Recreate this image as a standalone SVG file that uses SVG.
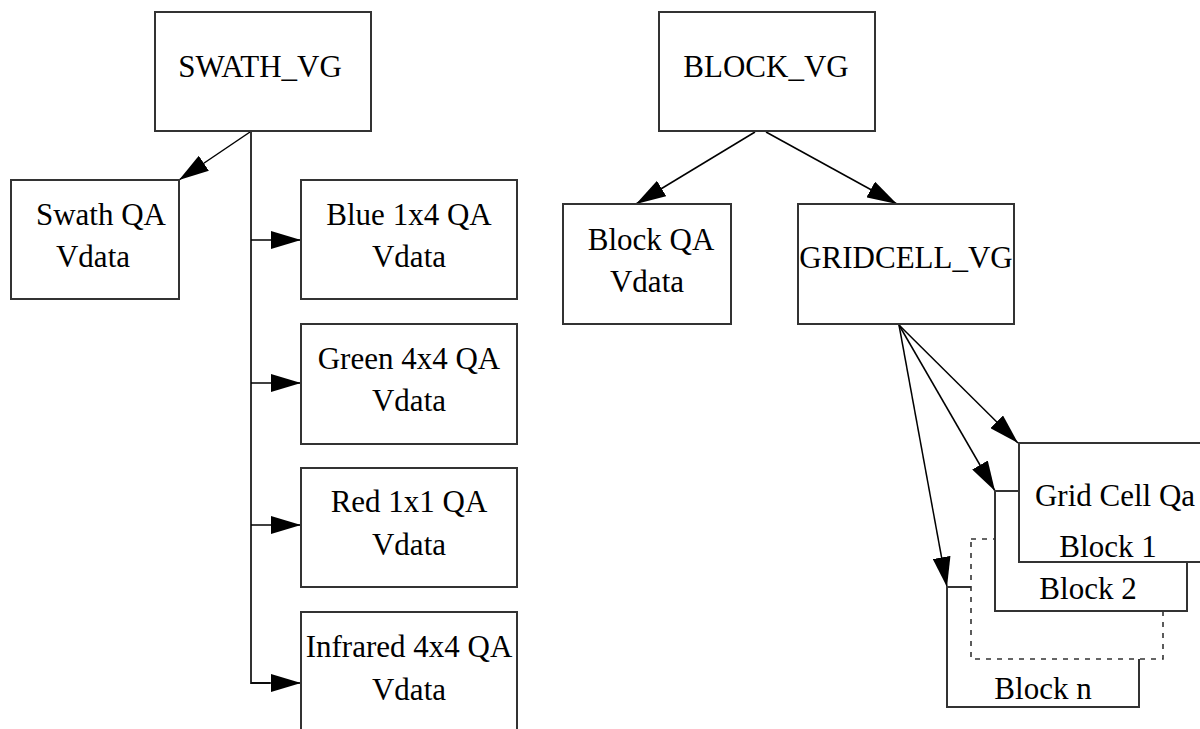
<svg xmlns="http://www.w3.org/2000/svg" width="1200" height="729" viewBox="0 0 1200 729">
<defs>
<marker id="ah" markerUnits="userSpaceOnUse" markerWidth="30" markerHeight="18" refX="30" refY="9" orient="auto">
<path d="M0,0 L30,9 L0,18 z" fill="#000"/>
</marker>
<style>
.box{fill:#fff;stroke:#333;stroke-width:2}
.dash{fill:#fff;stroke:#333;stroke-width:1.6;stroke-dasharray:5,6}
.t{font-family:"Liberation Serif","Times New Roman",serif;font-size:31px;fill:#000;text-anchor:middle}
.c{fill:none;stroke:#000;stroke-width:1.5}
.v{fill:none;stroke:#333;stroke-width:2}
</style>
</defs>
<rect width="1200" height="729" fill="#fff"/>
<g id="connectors">
<line class="c" x1="250" y1="132" x2="179" y2="180" marker-end="url(#ah)"/>
<polyline class="v" points="251,131 251,683 270,683"/>
<line class="c" x1="251" y1="240" x2="301" y2="240" marker-end="url(#ah)"/>
<line class="c" x1="251" y1="383" x2="301" y2="383" marker-end="url(#ah)"/>
<line class="c" x1="251" y1="525" x2="301" y2="525" marker-end="url(#ah)"/>
<line class="c" x1="251" y1="683" x2="301" y2="683" marker-end="url(#ah)"/>
<line class="c" x1="755" y1="132" x2="636" y2="204" marker-end="url(#ah)"/>
<line class="c" x1="766" y1="132" x2="897" y2="204" marker-end="url(#ah)"/>
<line class="c" x1="899" y1="325" x2="1018" y2="443" marker-end="url(#ah)"/>
<line class="c" x1="899" y1="325" x2="995" y2="491" marker-end="url(#ah)"/>
<line class="c" x1="899" y1="325" x2="947" y2="587" marker-end="url(#ah)"/>
</g>
<g id="swath_vg">
<rect class="box" x="155" y="12" width="216" height="119"/>
<text class="t" x="260" y="77">SWATH_VG</text>
</g>
<g id="swath_qa">
<rect class="box" x="11" y="180" width="168" height="119"/>
<text class="t" x="101" y="225">Swath QA</text>
<text class="t" x="93" y="267">Vdata</text>
</g>
<g id="blue_qa">
<rect class="box" x="301" y="180" width="216" height="119"/>
<text class="t" x="409" y="225">Blue 1x4 QA</text>
<text class="t" x="409" y="267">Vdata</text>
</g>
<g id="green_qa">
<rect class="box" x="301" y="324" width="216" height="120"/>
<text class="t" x="409" y="369">Green 4x4 QA</text>
<text class="t" x="409" y="411">Vdata</text>
</g>
<g id="red_qa">
<rect class="box" x="301" y="468" width="216" height="119"/>
<text class="t" x="409" y="512">Red 1x1 QA</text>
<text class="t" x="409" y="555">Vdata</text>
</g>
<g id="infrared_qa">
<rect class="box" x="301" y="612" width="216" height="130"/>
<text class="t" x="409" y="657">Infrared 4x4 QA</text>
<text class="t" x="409" y="700">Vdata</text>
</g>
<g id="block_vg">
<rect class="box" x="659" y="12" width="216" height="119"/>
<text class="t" x="766" y="77">BLOCK_VG</text>
</g>
<g id="block_qa">
<rect class="box" x="563" y="204" width="168" height="120"/>
<text class="t" x="651" y="250">Block QA</text>
<text class="t" x="647" y="292">Vdata</text>
</g>
<g id="gridcell_vg">
<rect class="box" x="798" y="204" width="216" height="120"/>
<text class="t" x="906" y="268">GRIDCELL_VG</text>
</g>
<g id="block_n">
<rect class="box" x="947" y="587" width="192" height="120"/>
<text class="t" x="1043" y="699">Block n</text>
</g>
<g id="block_dashed">
<rect class="dash" x="971" y="539" width="192" height="120"/>
</g>
<g id="block_2">
<rect class="box" x="995" y="491" width="192" height="120"/>
<text class="t" x="1088" y="599">Block 2</text>
</g>
<g id="block_1">
<rect class="box" x="1019" y="443" width="192" height="119"/>
<text class="t" x="1115" y="506">Grid Cell Qa</text>
<text class="t" x="1108" y="557">Block 1</text>
</g>
</svg>
